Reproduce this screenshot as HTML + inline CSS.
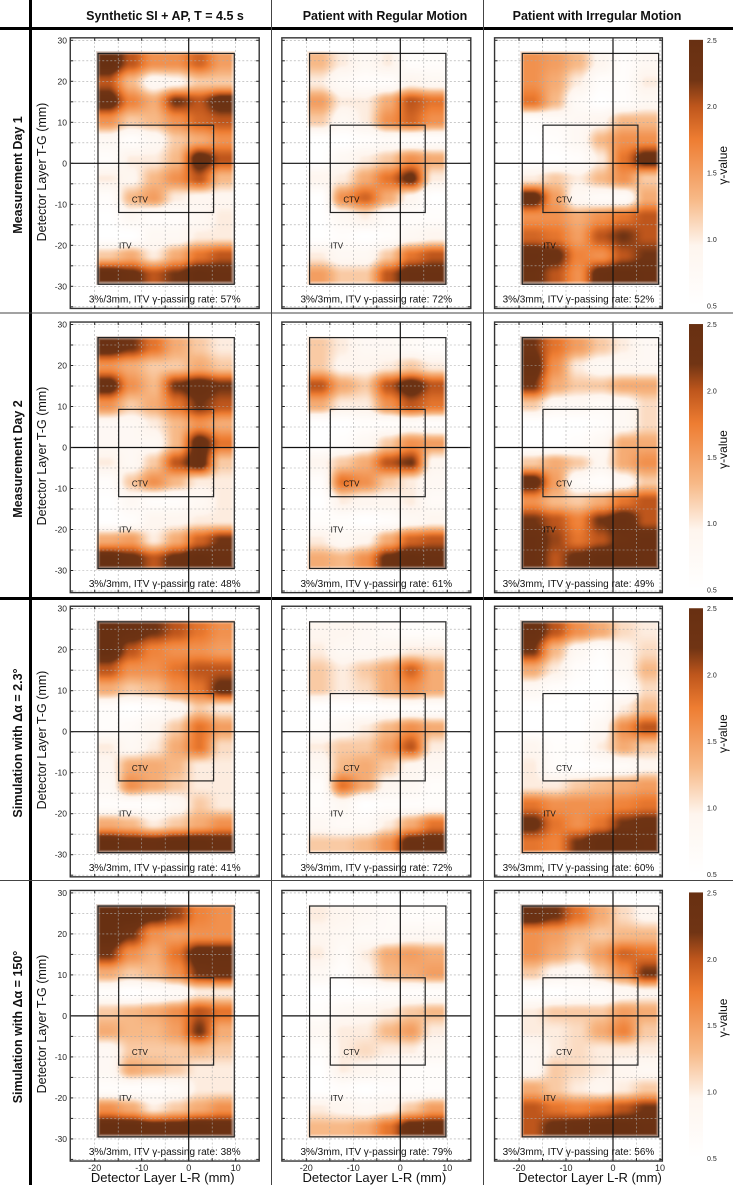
<!DOCTYPE html>
<html><head><meta charset="utf-8">
<style>
html,body{margin:0;padding:0;background:#fff;width:733px;height:1185px;overflow:hidden;position:relative}
#heat{position:absolute;left:0;top:0;width:733px;height:1185px}
#heat canvas{position:absolute;display:block}
svg{position:absolute;left:0;top:0;display:block;font-family:"Liberation Sans",sans-serif}
.hdr{font-weight:bold;font-size:12.5px;fill:#111}
.rowlab{font-weight:bold;font-size:12.5px;fill:#111}
.ytitle{font-size:12.5px;fill:#111}
</style></head>
<body>
<div id="heat"></div>
<svg id="fig" width="733" height="1185" viewBox="0 0 733 1185" xmlns="http://www.w3.org/2000/svg">
<defs>
<linearGradient id="cbar" x1="0" y1="1" x2="0" y2="0">
<stop offset="0" stop-color="#ffffff"/>
<stop offset="0.225" stop-color="#fef5ee"/>
<stop offset="0.4" stop-color="#f7b987"/>
<stop offset="0.625" stop-color="#ee7d32"/>
<stop offset="0.75" stop-color="#be561c"/>
<stop offset="0.85" stop-color="#703414"/>
<stop offset="1" stop-color="#683012"/>
</linearGradient>
</defs>
<g id="layout">
<rect x="29" y="0" width="3" height="1185" fill="#000"/>
<rect x="0" y="27" width="733" height="3" fill="#000"/>
<rect x="0" y="597" width="733" height="3" fill="#000"/>
<rect x="0" y="312.5" width="733" height="1" fill="#444"/>
<rect x="0" y="880" width="733" height="1" fill="#444"/>
<rect x="271" y="0" width="1" height="1185" fill="#444"/>
<rect x="483" y="0" width="1" height="1185" fill="#444"/>
</g>
<text class="hdr" x="165" y="20" text-anchor="middle">Synthetic SI + AP, T = 4.5 s</text>
<text class="hdr" x="385" y="20" text-anchor="middle">Patient with Regular Motion</text>
<text class="hdr" x="597" y="20" text-anchor="middle">Patient with Irregular Motion</text>
<text class="rowlab" transform="translate(22,175) rotate(-90)" text-anchor="middle">Measurement Day 1</text>
<text class="rowlab" transform="translate(22,459) rotate(-90)" text-anchor="middle">Measurement Day 2</text>
<text class="rowlab" transform="translate(22,743) rotate(-90)" text-anchor="middle">Simulation with Δα = 2.3°</text>
<text class="rowlab" transform="translate(22,1027) rotate(-90)" text-anchor="middle">Simulation with Δα = 150°</text>
<text class="ytitle" transform="translate(46,172) rotate(-90)" text-anchor="middle">Detector Layer T-G (mm)</text>
<text class="ytitle" transform="translate(46,456) rotate(-90)" text-anchor="middle">Detector Layer T-G (mm)</text>
<text class="ytitle" transform="translate(46,740) rotate(-90)" text-anchor="middle">Detector Layer T-G (mm)</text>
<text class="ytitle" transform="translate(46,1024) rotate(-90)" text-anchor="middle">Detector Layer T-G (mm)</text>
<g id="panels"></g>
</svg>
<script>
const xCenters=[-17.1,-12.25,-7.4,-2.6,2.25,7.1];
const yCenters=[24.5,19.8,15.1,10.4,5.7,1.0,-3.7,-8.4,-13.1,-17.8,-22.5,-27.2];
const xTickLabels=[-20,-10,0,10];
const yTickLabels=[30,20,10,0,-10,-20,-30];
const colorbarLabels=[2.5,2.0,1.5,1.0,0.5];
const passRates=[[57,72,52],[48,61,49],[41,72,60],[38,79,56]];

const day1Synthetic=[[2.5,2.0,1.6,1.6,1.9,1.5],[2.0,1.3,0.8,0.9,1.2,1.2],[2.4,1.7,1.4,2.2,2.0,2.4],[1.6,1.2,1.3,1.6,1.9,2.0],[0.8,0.6,0.8,1.2,1.4,1.6],[0.6,1.0,1.0,1.3,2.4,2.0],[1.0,0.9,1.3,1.6,2.0,1.3],[0.6,1.3,1.5,1.0,0.9,0.9],[0.5,0.8,0.6,0.6,0.8,1.0],[0.5,0.5,0.8,0.8,1.0,1.0],[1.2,1.4,1.0,1.4,1.8,2.0],[2.5,2.3,2.0,2.2,2.5,2.4]];
const day1Regular=[[1.3,1.0,0.8,1.0,0.6,0.6],[1.0,0.7,0.6,0.6,0.9,0.8],[1.5,1.0,1.0,1.4,2.0,1.8],[1.2,0.8,1.0,1.6,1.9,1.6],[0.5,0.5,0.6,0.7,0.6,0.6],[0.5,0.8,1.0,1.2,1.6,1.4],[0.9,1.0,1.4,1.8,2.3,1.0],[0.5,1.6,1.9,1.4,0.9,0.5],[0.5,0.8,1.0,0.7,0.6,0.6],[0.5,0.6,0.5,0.6,0.8,0.9],[1.0,0.8,0.8,1.2,1.8,2.0],[1.5,1.2,1.2,2.0,2.4,2.4]];
const day1Irregular=[[1.6,1.5,1.3,0.9,0.6,0.8],[1.6,1.4,1.0,0.6,0.6,1.0],[1.8,1.3,0.7,0.5,0.6,0.8],[0.6,0.7,0.8,0.9,1.3,1.3],[0.5,0.6,0.8,1.3,1.6,1.6],[0.5,0.5,0.6,1.0,1.8,2.4],[1.0,1.2,1.0,1.3,1.6,1.2],[2.4,1.5,0.8,0.7,0.7,1.4],[1.6,1.6,1.4,1.6,1.8,2.0],[1.9,1.8,1.5,2.0,2.2,2.0],[2.4,2.3,1.7,1.6,2.0,2.2],[2.3,2.0,1.6,2.4,2.5,2.4]];
const day2Synthetic=[[2.4,2.2,1.8,1.4,1.2,1.0],[1.6,1.4,1.2,1.2,1.4,1.2],[2.4,1.6,1.3,2.2,2.4,2.2],[1.6,1.2,1.4,1.8,2.2,2.0],[0.8,0.8,1.0,1.3,1.6,1.4],[0.8,0.8,0.8,1.3,2.4,1.8],[1.0,0.8,1.2,2.0,2.4,1.2],[0.6,1.2,1.6,1.3,1.0,1.0],[0.5,0.8,0.6,0.6,0.8,1.0],[0.5,0.6,0.9,0.9,1.0,1.0],[1.4,1.5,1.0,1.4,1.9,2.2],[2.5,2.3,2.0,2.3,2.5,2.4]];
const day2Regular=[[1.2,1.0,0.8,0.8,0.7,0.6],[1.2,0.9,0.9,1.0,1.2,1.0],[2.0,1.4,1.2,2.0,2.4,2.0],[1.4,1.0,1.0,1.6,2.0,1.8],[0.5,0.5,0.6,0.6,0.7,0.6],[0.5,0.6,0.8,1.2,1.6,1.5],[0.9,1.2,1.4,2.0,2.2,0.9],[0.6,1.8,1.6,1.2,1.0,0.8],[0.5,1.0,0.9,0.9,1.0,0.7],[0.6,0.6,0.5,0.6,0.8,0.9],[1.0,0.8,0.9,1.4,1.9,2.0],[1.4,1.3,1.6,2.3,2.5,2.4]];
const day2Irregular=[[2.2,1.8,1.5,1.2,1.0,0.8],[2.4,1.6,1.0,0.8,0.8,0.8],[2.2,1.4,1.2,1.2,1.4,1.4],[1.2,0.8,0.8,0.7,0.8,1.1],[0.5,0.5,0.5,0.6,0.8,1.1],[0.5,0.5,0.6,0.8,1.4,1.4],[1.2,1.4,1.2,0.9,1.4,1.6],[2.4,1.5,0.7,0.6,0.8,1.2],[1.6,1.3,1.2,1.4,1.8,2.0],[2.2,2.0,1.7,2.2,2.4,2.0],[2.4,2.1,1.8,2.0,2.3,2.4],[2.4,2.0,2.3,2.5,2.5,2.4]];
const sim23Synthetic=[[2.5,2.4,2.2,2.0,1.8,1.6],[2.5,2.0,1.7,1.6,1.6,1.5],[2.0,1.6,1.6,1.8,2.0,2.0],[1.4,1.2,1.3,1.6,1.8,2.3],[0.6,0.5,0.6,0.8,1.2,1.0],[0.6,0.7,0.9,1.2,1.8,1.5],[1.0,0.8,1.0,1.4,1.8,1.1],[0.9,1.4,1.4,1.3,1.0,1.0],[0.8,1.6,1.4,1.2,1.0,1.0],[0.6,0.6,0.6,0.8,1.2,1.0],[1.4,1.3,1.0,1.2,1.4,1.6],[2.5,2.4,2.4,2.5,2.5,2.4]];
const sim23Regular=[[0.9,0.9,0.8,0.7,0.6,0.6],[1.0,0.8,0.8,0.9,1.0,1.0],[1.2,1.0,1.2,1.4,1.9,1.4],[1.2,1.0,1.1,1.4,1.6,1.4],[0.5,0.5,0.5,0.6,0.6,0.6],[0.6,0.8,1.0,1.3,1.6,1.4],[1.0,1.2,1.2,1.5,2.0,1.0],[0.8,1.3,1.4,1.2,0.9,0.8],[0.6,1.8,1.4,0.9,0.8,0.6],[0.6,0.8,0.5,0.6,0.6,0.6],[0.8,0.7,0.7,1.0,1.4,1.8],[1.2,1.2,1.3,1.6,2.4,2.4]];
const sim23Irregular=[[2.4,2.0,1.6,1.4,1.1,1.0],[2.2,1.3,0.8,0.6,0.9,1.1],[1.4,1.0,0.6,0.5,0.8,1.3],[0.8,0.6,0.5,0.5,0.6,1.1],[0.5,0.5,0.5,0.6,1.0,1.3],[0.5,0.5,0.5,0.8,1.6,2.0],[0.9,0.6,0.6,1.0,1.4,1.2],[1.0,0.6,0.5,0.6,0.7,0.9],[1.0,1.0,1.2,1.3,1.4,1.5],[1.8,1.6,1.6,1.6,1.7,1.8],[2.3,1.8,1.6,1.8,2.2,2.3],[1.8,1.7,2.2,2.5,2.5,2.4]];
const sim150Synthetic=[[2.5,2.5,2.3,2.1,1.7,1.6],[2.5,2.2,1.6,1.5,1.6,1.6],[2.2,1.6,1.4,1.8,2.4,2.4],[1.4,1.2,1.3,1.6,2.2,2.3],[0.6,0.5,0.6,0.7,1.0,1.0],[1.2,1.3,1.4,1.6,2.0,1.8],[1.4,1.3,1.3,1.5,2.2,1.4],[0.8,1.2,1.2,1.2,1.3,1.2],[0.8,1.4,1.3,1.2,1.0,1.0],[0.6,0.6,0.6,0.7,1.0,1.0],[1.6,1.4,1.0,1.2,1.4,1.6],[2.5,2.5,2.4,2.4,2.5,2.4]];
const sim150Regular=[[1.0,0.9,0.8,0.7,0.6,0.6],[0.9,0.8,0.7,0.7,0.8,0.8],[1.0,0.7,1.0,1.4,1.5,1.4],[0.8,0.6,0.9,1.3,1.4,1.5],[0.5,0.5,0.5,0.6,0.6,0.6],[0.6,0.8,0.9,1.0,1.2,1.3],[0.8,1.0,1.0,1.3,1.5,1.0],[0.6,1.0,1.1,1.0,1.0,0.8],[0.5,1.0,0.9,0.8,0.6,0.6],[0.5,0.6,0.5,0.6,0.6,0.6],[1.0,0.9,0.8,0.9,1.2,1.5],[1.3,1.3,1.4,1.8,2.4,2.4]];
const sim150Irregular=[[2.4,2.2,1.8,1.4,1.1,0.9],[1.6,1.5,1.3,1.2,1.3,1.3],[1.6,1.4,1.2,1.5,1.9,1.8],[1.2,0.9,0.8,1.2,1.6,2.2],[0.5,0.5,0.6,0.6,0.8,0.9],[1.0,1.2,1.2,1.2,1.5,1.4],[1.0,1.0,1.1,1.4,1.7,1.2],[0.8,1.0,1.1,1.0,1.0,1.0],[0.8,1.2,1.1,1.0,0.9,0.8],[1.4,1.2,1.0,0.9,1.0,1.2],[2.0,1.8,1.7,1.8,2.0,2.2],[2.0,2.3,2.4,2.5,2.5,2.4]];

const heatData=[[day1Synthetic,day1Regular,day1Irregular],[day2Synthetic,day2Regular,day2Irregular],[sim23Synthetic,sim23Regular,sim23Irregular],[sim150Synthetic,sim150Regular,sim150Irregular]];

const NS='http://www.w3.org/2000/svg';
const zeroX=[188.7,400.3,613.0];
const zeroY0=163.3, rowStep=284.2, SX=4.7, SY=4.1;
function px(c,x){return zeroX[c]+x*SX;}
function py(r,y){return zeroY0+r*rowStep-y*SY;}
const cstops=[[0.5,[255,255,255]],[0.95,[254,245,238]],[1.3,[247,185,135]],[1.75,[238,125,50]],[2.0,[190,86,28]],[2.2,[112,52,20]],[2.5,[104,48,18]]];
function colorArr(v){
  if(v<=cstops[0][0])return [255,255,255];
  for(let i=1;i<cstops.length;i++){
    if(v<=cstops[i][0]){const a=cstops[i-1],b=cstops[i];const t=(v-a[0])/(b[0]-a[0]);
      return a[1].map((q,k)=>Math.round(q+(b[1][k]-q)*t));}
  }
  return [104,48,18];
}
function mk(tag,attrs,parent){const e=document.createElementNS(NS,tag);for(const k in attrs)e.setAttribute(k,attrs[k]);parent.appendChild(e);return e;}
const root=document.getElementById('panels');
const heatLayer=document.getElementById('heat');

function sampleValue(data,x,y){
  const nx=xCenters.length, ny=yCenters.length;
  let fj=(x-xCenters[0])/(xCenters[nx-1]-xCenters[0])*(nx-1);
  let fi=(yCenters[0]-y)/(yCenters[0]-yCenters[ny-1])*(ny-1);
  fj=Math.max(0,Math.min(nx-1,fj)); fi=Math.max(0,Math.min(ny-1,fi));
  const j0=Math.min(nx-2,Math.floor(fj)), i0=Math.min(ny-2,Math.floor(fi));
  let tx=fj-j0, ty=fi-i0;
  tx=tx*tx*(3-2*tx); ty=ty*ty*(3-2*ty);
  const a=data[i0][j0],b=data[i0][j0+1],c=data[i0+1][j0],d=data[i0+1][j0+1];
  return (a*(1-tx)+b*tx)*(1-ty)+(c*(1-tx)+d*tx)*ty;
}

for(let r=0;r<4;r++){
  for(let c=0;c<3;c++){
    const xmax=(c===2)?10.5:15;
    const L=px(c,-25.2),R=px(c,xmax),T=py(r,30.6),B=py(r,-35.4);
    const g=mk('g',{},root);
    
    
    const hx0=Math.round(px(c,-19.8)), hx1=Math.round(px(c,9.9));
    const hy0=Math.round(py(r,27.3)), hy1=Math.round(py(r,-29.8));
    const cw=hx1-hx0, ch=hy1-hy0;
    const cv=document.createElement('canvas');
    
    
    cv.width=cw; cv.height=ch;
    cv.style.left=hx0+'px'; cv.style.top=hy0+'px';
    cv.style.width=cw+'px'; cv.style.height=ch+'px';
    heatLayer.appendChild(cv);
    const ctx=cv.getContext('2d');
    const img=ctx.createImageData(cw,ch);
    const data=heatData[r][c];
    for(let yy=0;yy<ch;yy++){
      const ymm=(zeroY0+r*rowStep-(hy0+yy+0.5))/SY;
      for(let xx=0;xx<cw;xx++){
        const xmm=(hx0+xx+0.5-zeroX[c])/SX;
        const v=sampleValue(data,xmm,ymm);
        const col=colorArr(v);
        const ed=Math.min(xx,yy,cw-1-xx,ch-1-yy);
        const al=Math.min(1,(ed+1)/5);
        const k=(yy*cw+xx)*4;
        img.data[k]=col[0]*al+255*(1-al);
        img.data[k+1]=col[1]*al+255*(1-al);
        img.data[k+2]=col[2]*al+255*(1-al);
        img.data[k+3]=255;
      }
    }
    ctx.putImageData(img,0,0);
    for(let x=-20;x<xmax;x+=5){
      if(x===0)continue;
      const gl=mk('line',{x1:px(c,x),x2:px(c,x),y1:T,y2:B,stroke:'#aaa','stroke-width':0.6,'stroke-dasharray':'2,2'},g);
      
      
    }
    for(let y=-35;y<=30;y+=5){
      if(y===0)continue;
      const gl=mk('line',{x1:L,x2:R,y1:py(r,y),y2:py(r,y),stroke:'#aaa','stroke-width':0.6,'stroke-dasharray':'2,2'},g);
      
      
    }
    const itv=mk('rect',{x:px(c,-19.3),y:py(r,26.8),width:px(c,9.7)-px(c,-19.3),height:py(r,-29.5)-py(r,26.8),fill:'none',stroke:'#222','stroke-width':1.2},g);
    
    
    const ctv=mk('rect',{x:px(c,-14.9),y:py(r,9.3),width:px(c,5.3)-px(c,-14.9),height:py(r,-12)-py(r,9.3),fill:'none',stroke:'#222','stroke-width':1.2},g);
    
    
    const vx=mk('line',{x1:px(c,0),x2:px(c,0),y1:T,y2:B,stroke:'#111','stroke-width':1.2},g);
    
    
    const hxl=mk('line',{x1:L,x2:R,y1:py(r,0),y2:py(r,0),stroke:'#111','stroke-width':1.2},g);
    
    
    for(let x=-20;x<xmax;x+=5){
      const t1=mk('line',{x1:px(c,x),x2:px(c,x),y1:T,y2:T+3,stroke:'#222','stroke-width':1},g);
      
      
      const t2=mk('line',{x1:px(c,x),x2:px(c,x),y1:B,y2:B-3,stroke:'#222','stroke-width':1},g);
      
      
    }
    for(let y=-35;y<=30;y+=5){
      const t1=mk('line',{x1:L,x2:L+3,y1:py(r,y),y2:py(r,y),stroke:'#222','stroke-width':1},g);
      
      
      const t2=mk('line',{x1:R,x2:R-3,y1:py(r,y),y2:py(r,y),stroke:'#222','stroke-width':1},g);
      
      
    }
    const fr=mk('rect',{x:L,y:T,width:R-L,height:B-T,fill:'none',stroke:'#333','stroke-width':1.4},g);
    
    
    const ctvL=mk('text',{x:px(c,-10.4),y:py(r,-8.8)+3,'font-size':8,'text-anchor':'middle',fill:'#111'},g);
    ctvL.textContent='CTV';
    
    
    const itvL=mk('text',{x:px(c,-13.5),y:py(r,-20)+3,'font-size':8,'text-anchor':'middle',fill:'#111'},g);
    itvL.textContent='ITV';
    
    
    const pr=mk('text',{x:(L+R)/2,y:py(r,-33)+4,'font-size':10,'text-anchor':'middle',fill:'#111'},g);
    pr.textContent='3%/3mm, ITV γ-passing rate: '+passRates[r][c]+'%';
    
    
    if(c===0){
      for(const v of yTickLabels){
        const tl=mk('text',{x:67,y:py(r,v)+3,'font-size':8.5,'text-anchor':'end',fill:'#222'},g);
        tl.textContent=String(v);
        
        
      }
    }
    if(r===3){
      for(const v of xTickLabels){
        if(v>xmax)continue;
        const tl=mk('text',{x:px(c,v),y:B+10,'font-size':9,'text-anchor':'middle',fill:'#222'},g);
        tl.textContent=String(v);
        
        
      }
      const xt=mk('text',{x:(c===2)?590:(L+R)/2-2,y:1182,'font-size':13,'text-anchor':'middle',fill:'#111'},g);
      xt.textContent='Detector Layer L-R (mm)';
      
      
    }
    if(c===2){
      const cbTop=py(r,30.6)+2, cbBot=py(r,-35.4)-3;
      const cb=mk('rect',{x:689,y:cbTop,width:14,height:cbBot-cbTop,fill:'url(#cbar)'},g);
      
      
      for(const v of colorbarLabels){
        const yy=cbBot-(v-0.5)/2*(cbBot-cbTop);
        const cl=mk('text',{x:707,y:yy+3,'font-size':7,fill:'#222'},g);
        cl.textContent=v.toFixed(1);
        
        
      }
      const ct=mk('text',{'font-size':12,'text-anchor':'middle',fill:'#111',transform:'translate(727,'+(py(r,0)+2)+') rotate(-90)'},g);
      ct.textContent='γ-value';
      
      
    }
  }
}
</script>
</body></html>
